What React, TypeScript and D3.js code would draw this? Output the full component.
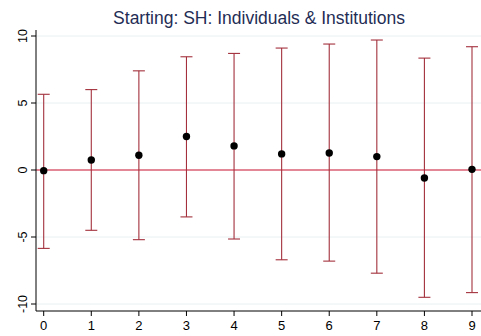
import * as d3 from "d3";

const title = "Starting: SH: Individuals & Institutions";
const periods = [0, 1, 2, 3, 4, 5, 6, 7, 8, 9];
const estimates = [-0.05, 0.75, 1.1, 2.5, 1.8, 1.2, 1.27, 1.0, -0.6, 0.05];
const upper = [5.65, 6.0, 7.4, 8.45, 8.7, 9.1, 9.4, 9.7, 8.35, 9.2];
const lower = [-5.85, -4.5, -5.2, -3.5, -5.15, -6.7, -6.8, -7.7, -9.5, -9.15];
const yTicks = [-10, -5, 0, 5, 10];

export default function App() {
  const width = 481;
  const height = 336;
  const axisX = 36;
  const axisY = 311;

  const x = d3.scaleLinear().domain([0, 9]).range([43.7, 472]);
  const y = d3.scaleLinear().domain([-10, 10]).range([304, 36]);

  const font = "'Liberation Sans', Arial, sans-serif";
  const barColor = "#a3303c";

  return (
    <svg
      width={width}
      height={height}
      style={{ position: "absolute", left: 0, top: 0, background: "#fff" }}
      fontFamily={font}
    >
      <text x={259} y={24} textAnchor="middle" fontSize={17.5} fill="#1f2d55">
        {title}
      </text>

      {/* grid */}
      {yTicks
        .filter((t) => t !== 0)
        .map((t) => (
          <line key={t} x1={axisX} x2={width} y1={y(t)} y2={y(t)} stroke="#eaf0f0" strokeWidth={1} />
        ))}

      {/* zero line */}
      <line x1={axisX} x2={width} y1={y(0)} y2={y(0)} stroke="#c8102e" strokeWidth={1.2} />

      {/* error bars */}
      {periods.map((p, i) => (
        <g key={p} stroke={barColor} strokeWidth={1.1}>
          <line x1={x(p)} x2={x(p)} y1={y(upper[i])} y2={y(lower[i])} />
          <line x1={x(p) - 6} x2={x(p) + 6} y1={y(upper[i])} y2={y(upper[i])} />
          <line x1={x(p) - 6} x2={x(p) + 6} y1={y(lower[i])} y2={y(lower[i])} />
        </g>
      ))}

      {/* points */}
      {periods.map((p, i) => (
        <circle key={p} cx={x(p)} cy={y(estimates[i])} r={3.7} fill="#000" />
      ))}

      {/* y axis */}
      <line x1={axisX} x2={axisX} y1={30} y2={axisY} stroke="#000" strokeWidth={1} />
      {yTicks.map((t) => (
        <g key={t}>
          <line x1={axisX - 5} x2={axisX} y1={y(t)} y2={y(t)} stroke="#000" />
          <text
            transform={`translate(${axisX - 9},${y(t)}) rotate(-90)`}
            textAnchor="middle"
            fontSize={12.5}
            fill="#000"
          >
            {t}
          </text>
        </g>
      ))}

      {/* x axis */}
      <line x1={axisX} x2={width} y1={axisY} y2={axisY} stroke="#000" strokeWidth={1} />
      {periods.map((p) => (
        <g key={p}>
          <line x1={x(p)} x2={x(p)} y1={axisY} y2={axisY + 5} stroke="#000" />
          <text x={x(p)} y={axisY + 19} textAnchor="middle" fontSize={13} fill="#000">
            {p}
          </text>
        </g>
      ))}
    </svg>
  );
}
